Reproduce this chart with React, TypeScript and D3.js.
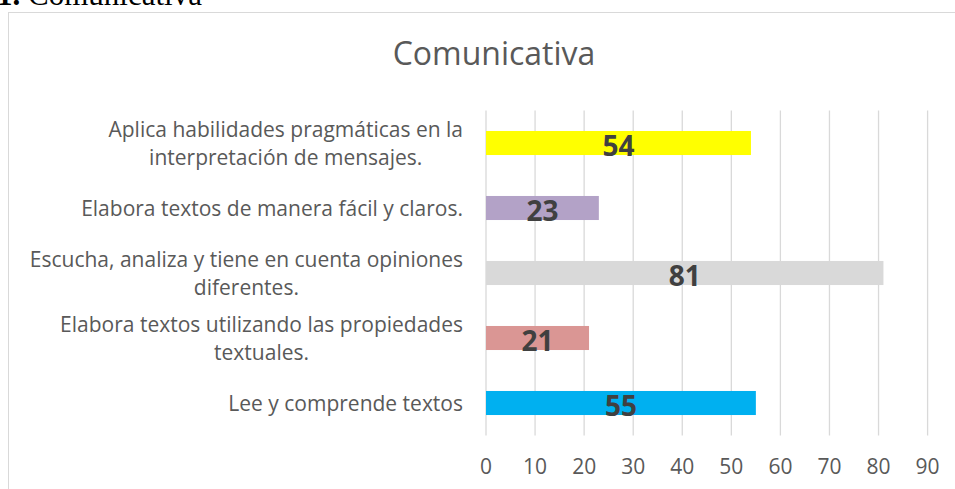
import React, { useRef, useEffect } from "react";
import * as d3 from "d3";

// chart data, top to bottom as drawn
const categories = [
  "Aplica habilidades pragmáticas en la interpretación de mensajes.",
  "Elabora textos de manera fácil y claros.",
  "Escucha, analiza y tiene en cuenta opiniones diferentes.",
  "Elabora textos utilizando las propiedades textuales.",
  "Lee y comprende textos",
];
// wrapped the way the original axis wraps them
const categoryLines = [
  ["Aplica habilidades pragmáticas en la", "interpretación de mensajes."],
  ["Elabora textos de manera fácil y claros."],
  ["Escucha, analiza y tiene en cuenta opiniones", "diferentes."],
  ["Elabora textos utilizando las propiedades", "textuales."],
  ["Lee y comprende textos"],
];
const values = [54, 23, 81, 21, 55];
const barColors = ["#FFFF00", "#B3A2C7", "#D9D9D9", "#DA9694", "#00B0F0"];
const xTicks = [0, 10, 20, 30, 40, 50, 60, 70, 80, 90];

const W = 955;
const H = 489;
const FONT = "'Open Sans', 'Noto Sans', sans-serif";

const App = () => {
  const svgRef = useRef<SVGSVGElement>(null);

  useEffect(() => {
    const svg = d3.select(svgRef.current);
    svg.selectAll("*").remove();

    const x = d3.scaleLinear().domain([0, 90]).range([486, 927.6]);
    const y = d3
      .scaleBand<string>()
      .domain(categories)
      .range([110.5, 435.5])
      .paddingInner(0.63)
      .paddingOuter(0.315);

    // caption above the chart box (cut off at the top of the page)
    const cap = svg
      .append("text")
      .attr("x", -3)
      .attr("y", 5)
      .style("font-family", "'Liberation Serif', 'Times New Roman', serif")
      .style("font-size", "31px")
      .attr("fill", "#000");
    cap.append("tspan").attr("font-weight", "bold").text("1. ");
    cap.append("tspan").text("Comunicativa");

    // chart frame
    svg
      .append("rect")
      .attr("x", 8.5)
      .attr("y", 12.5)
      .attr("width", W + 20)
      .attr("height", H + 20)
      .attr("fill", "#fff")
      .attr("stroke", "#D9D9D9")
      .attr("stroke-width", 1);

    // title
    svg
      .append("text")
      .attr("x", 494)
      .attr("y", 65)
      .attr("text-anchor", "middle")
      .style("font-family", FONT)
      .style("font-size", "32px")
      .attr("fill", "#595959")
      .text("Comunicativa");

    // vertical gridlines
    svg
      .append("g")
      .selectAll("line")
      .data(xTicks)
      .join("line")
      .attr("x1", (d) => x(d))
      .attr("x2", (d) => x(d))
      .attr("y1", y.range()[0])
      .attr("y2", y.range()[1])
      .attr("stroke", "#D9D9D9")
      .attr("stroke-width", 1.3);

    // x tick labels
    svg
      .append("g")
      .selectAll("text")
      .data(xTicks)
      .join("text")
      .attr("x", (d) => x(d))
      .attr("y", 474)
      .attr("text-anchor", "middle")
      .style("font-family", FONT)
      .style("font-size", "21px")
      .attr("fill", "#595959")
      .text((d) => d);

    // bars
    svg
      .append("g")
      .selectAll("rect")
      .data(values)
      .join("rect")
      .attr("x", x(0))
      .attr("y", (d, i) => y(categories[i])!)
      .attr("width", (d) => x(d) - x(0))
      .attr("height", y.bandwidth())
      .attr("fill", (d, i) => barColors[i]);

    // value labels inside bars
    svg
      .append("g")
      .selectAll("text")
      .data(values)
      .join("text")
      .attr("x", (d) => (x(0) + x(d)) / 2)
      .attr("y", (d, i) => y(categories[i])! + y.bandwidth() + 1)
      .attr("text-anchor", "middle")
      .style("font-family", FONT)
      .style("font-size", "28px")
      .style("font-weight", "bold")
      .attr("fill", "#404040")
      .text((d) => d);

    // category labels: block right-aligned, lines centred within the block
    const right = 463;
    const lineH = 28;
    categoryLines.forEach((lines, i) => {
      const cy = y(categories[i])! + y.bandwidth() / 2;
      const g = svg.append("g");
      const texts = lines.map((ln, j) =>
        g
          .append("text")
          .attr("y", cy + (j - (lines.length - 1) / 2) * lineH + 7.5)
          .attr("text-anchor", "middle")
          .style("font-family", FONT)
          .style("font-size", "21px")
          .attr("fill", "#595959")
          .text(ln)
      );
      const widths = texts.map((t) => (t.node() as SVGTextElement).getComputedTextLength());
      const maxW = d3.max(widths) || 0;
      texts.forEach((t) => t.attr("x", right - maxW / 2));
    });
  }, []);

  return (
    <svg
      ref={svgRef}
      width={W}
      height={H}
      style={{ position: "absolute", left: 0, top: 0, background: "#fff" }}
    ></svg>
  );
};

export default App;
